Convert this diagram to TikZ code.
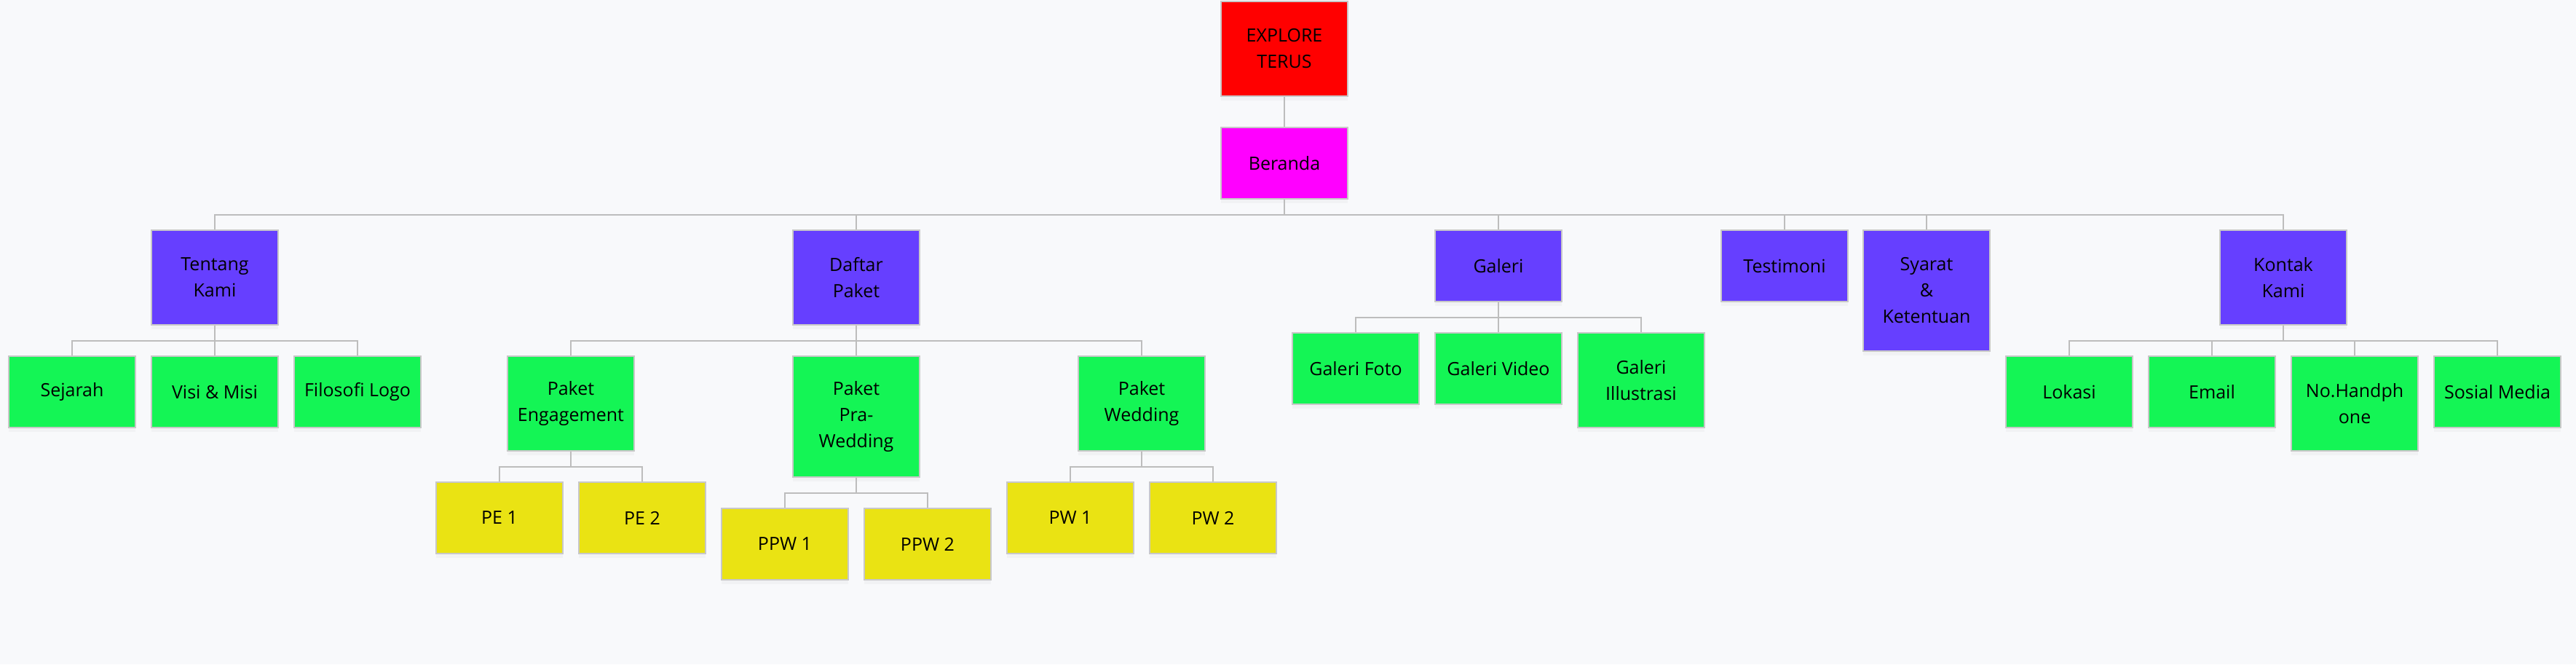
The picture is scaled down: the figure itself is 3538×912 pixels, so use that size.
\documentclass[tikz,border=0pt]{standalone}
\usepackage{fontspec}
\setmainfont{Open Sans}
\usetikzlibrary{trees,shadows}

\definecolor{bgpaper}{HTML}{F8F9FB}
\definecolor{rootred}{HTML}{FF0000}
\definecolor{homepink}{HTML}{FF00FF}
\definecolor{menupurple}{HTML}{663FFF}
\definecolor{subgreen}{HTML}{14F555}
\definecolor{pkgyellow}{HTML}{EAE313}
\definecolor{boxline}{HTML}{C8C8C8}
\definecolor{linkgray}{HTML}{BDBDBD}

\begin{document}
\begin{tikzpicture}[
  x=0.5pt, y=0.5pt,
  level 1/.style={level distance=53.5pt},
  level 2/.style={level distance=45.5pt, sibling distance=0pt},
  level 3/.style={level distance=53.5pt, sibling distance=98pt},
  level 4/.style={level distance=53.5pt, sibling distance=98pt},
  edge from parent/.style={draw=linkgray, line width=0.75pt},
  edge from parent path={(\tikzparentnode.south) -- +(0,-10.5pt) -| (\tikzchildnode.north)},
  every node/.style={rectangle, draw=boxline, line width=1pt, anchor=north, align=center,
    minimum width=87pt, minimum height=49pt, inner sep=2pt, text=black,
    font=\fontsize{12.5}{18}\selectfont,
    drop shadow={shadow xshift=0pt, shadow yshift=-3pt, opacity=0.05}},
  tall2/.style={minimum height=65pt},
  tall3/.style={minimum height=83pt},
  rootbox/.style={fill=rootred},
  homebox/.style={fill=homepink},
  menubox/.style={fill=menupurple},
  subbox/.style={fill=subgreen},
  pkgbox/.style={fill=pkgyellow}
]

\path[use as bounding box, fill=bgpaper] (0,0) rectangle (3538,-912);

\node[rootbox, tall2] (explore) at (1764,-1) {EXPLORE\\TERUS}
  child {
    node[homebox] (beranda) {Beranda}
    child[xshift=-734.5pt] {
      node[menubox, tall2] (tentang) {Tentang\\Kami}
      child { node[subbox] (sejarah) {Sejarah} }
      child { node[subbox] (visimisi) {Visi \& Misi} }
      child { node[subbox] (filosofi) {Filosofi Logo} }
    }
    child[xshift=-294pt] {
      node[menubox, tall2] (daftar) {Daftar\\Paket}
      child[xshift=-98pt] {
        node[subbox, tall2] (engagement) {Paket\\Engagement}
        child { node[pkgbox] (pe1) {PE 1} }
        child { node[pkgbox] (pe2) {PE 2} }
      }
      child {
        node[subbox, tall3] (prawedding) {Paket\\Pra-\\Wedding}
        child[yshift=-9pt] { node[pkgbox] (ppw1) {PPW 1} }
        child[yshift=-9pt] { node[pkgbox] (ppw2) {PPW 2} }
      }
      child[xshift=98pt] {
        node[subbox, tall2] (wedding) {Paket\\Wedding}
        child { node[pkgbox] (pw1) {PW 1} }
        child { node[pkgbox] (pw2) {PW 2} }
      }
    }
    child[xshift=147pt] {
      node[menubox] (galeri) {Galeri}
      child[yshift=8pt] { node[subbox] (galerifoto) {Galeri Foto} }
      child[yshift=8pt] { node[subbox] (galerivideo) {Galeri Video} }
      child[yshift=8pt] { node[subbox, tall2] (galeriilus) {Galeri\\Illustrasi} }
    }
    child[xshift=343.5pt] { node[menubox] (testimoni) {Testimoni} }
    child[xshift=441pt] { node[menubox, tall3] (syarat) {Syarat\\\&\\Ketentuan} }
    child[xshift=686pt] {
      node[menubox, tall2] (kontak) {Kontak\\Kami}
      child { node[subbox] (lokasi) {Lokasi} }
      child { node[subbox] (email) {Email} }
      child { node[subbox, tall2] (nohp) {No.Handph\\one} }
      child { node[subbox] (sosmed) {Sosial Media} }
    }
  };

\end{tikzpicture}
\end{document}
